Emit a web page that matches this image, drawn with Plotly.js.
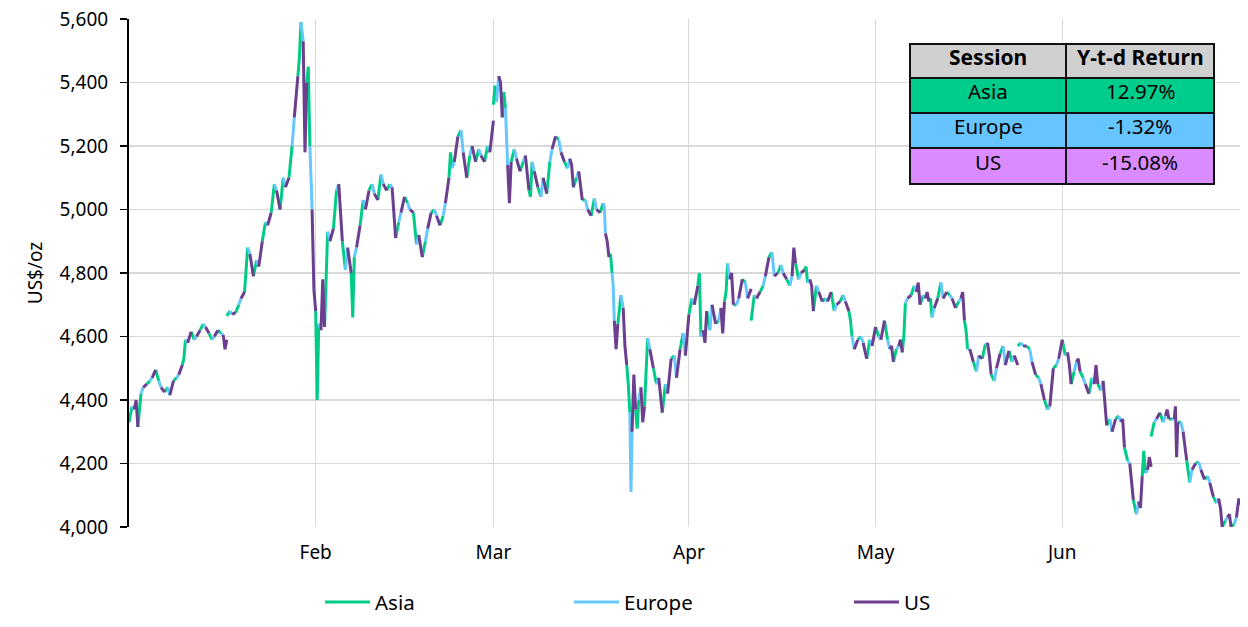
<!DOCTYPE html>
<html>
<head>
<meta charset="utf-8">
<script src="https://cdn.plot.ly/plotly-3.0.1.min.js"></script>
<style>html,body{margin:0;padding:0;background:#fff;}#chart{width:1248px;height:627px;}</style>
</head>
<body>
<div id="chart"></div>
<script>
// Trading-day index 0 = 2 Jan; each entry = price path (US$/oz) within that session
const monthTickDays = [21, 41, 63, 84, 105];
const monthTickLabels = ['Feb', 'Mar', 'Apr', 'May', 'Jun'];
// days where the line is broken before the Asia session (first Asia value = session open)
const gapDays = [0, 11, 41, 70, 100, 115];

const asia = [
  [4330,4380],4420,4460,4460,4440,4470,[4530,4590],4590,4640,4590,
  4610,[4665,4680],4700,4880,4840,4960,5080,5100,5200,[5480,5590],
  [5450,5200],[4400,4640],[4800,4930],5060,4810,[4660,4850],5030,5080,5110,5080,
  4960,5020,4890,4900,5000,4980,[5180,5130],5250,5170,5190,
  5200,[5330,5390,5340],[5370,5320],5190,5150,[5040,5150],5040,5150,5220,5130,
  5100,5030,5035,5020,[4860,4800],4730,[4450,4360],[4310,4400],4595,4450,
  4450,4540,4610,4720,[4800,4600],4620,4650,[4740,4830],4700,4770,
  [4650,4730],4760,4865,4825,4760,4780,[4820,4770],4760,4720,4680,
  4730,[4650,4600],4600,4590,4600,4590,4560,[4600,4705],4760,4730,
  [4720,4660],4770,4730,4710,[4620,4560],4490,4575,4460,4570,4520,
  [4570,4580],4560,4470,4370,4510,4540,4490,4470,4470,4430,
  4340,4350,4210,4040,[4240,4170],[4285,4330],4330,4340,4330,4140,
  4205,4160,4075,4020,4010
];
const europe = [
  4370,4440,4470,4440,4415,4480,4580,4600,4630,4600,
  4605,4670,4720,4860,4820,4950,5060,5070,5290,5530,
  [5120,5000],4620,4900,5080,4880,4880,5000,5050,5080,5070,
  4990,5000,4920,4940,4980,5020,5150,5180,5200,5170,
  5180,5420,[5250,5140],5160,5170,5120,5100,5190,5180,5160,
  5120,5000,5000,[5010,4925],[4760,4650],4690,[4110,4300],4440,4560,4470,
  4420,4470,4540,4700,4620,4700,4690,4780,4720,4720,
  4720,4790,4790,4800,4790,4800,4780,4740,4710,4700,
  4710,4560,4580,4570,4590,4560,4570,4720,4740,4720,
  4690,4720,4720,4720,4560,4540,4580,4500,4510,4540,
  4570,4520,4450,4380,4530,4550,4520,4450,4450,4460,
  4300,4330,4200,4080,4180,4340,4350,4340,4300,4180,
  4180,4140,4090,4030,4030
];
const us = [
  [4400,4315],4450,4495,4425,4460,4510,4615,4620,4610,4620,
  [4560,4590],4675,4740,4790,4900,4990,5000,5100,5420,[5180,5400],
  [4750,4680],[4780,4630],4940,[5000,4900],4800,4950,5060,5030,5060,4910,
  5040,4990,4850,4990,4950,5100,5230,5100,5150,5150,
  5280,[5400,5290],[5020,5150],5120,5060,5070,5050,5230,5150,[5140,5070],
  5030,4980,4990,[4900,4850],[4560,4640],[4570,4510],[4480,4370],[4330,4380],4500,[4420,4360],
  4530,4560,4670,4760,[4580,4680],4640,[4610,4710],[4800,4700],4780,4750,
  4740,4850,4800,4780,[4880,4830],4810,[4760,4680],4710,4740,4710,
  4680,4590,4530,4630,4650,[4570,4520],[4590,4550],4730,[4770,4700],[4740,4710],
  4720,4740,4690,[4740,4650],4520,4530,[4540,4480],4545,4555,4510,
  4570,4480,[4420,4400],4500,4590,[4510,4450],[4530,4490],4420,[4510,4450],4320,
  4340,[4340,4250],[4150,4085],[4060,4160],[4220,4190],4360,[4370,4340],[4380,4220,4330],4210,4200,
  4150,4095,[4060,4000],[4040,4000],[4065,4090,4070]
];

const sessionNames = ['Asia', 'Europe', 'US'];
const sessionColors = ['#00CC88', '#66C7FF', '#6B3F8E'];
const tableHeader = ['Session', 'Y-t-d Return'];
const ytdReturn = ['12.97%', '-1.32%', '-15.08%'];
const tableFills = ['#00CC8C', '#66C5FF', '#DA8BFF'];
const headerFill = '#D0D0D0';

const FONT = 'Noto Sans, Open Sans, sans-serif';
const W = 1248, H = 627, M = {l: 129, r: 8, t: 19, b: 100};
const PW = W - M.l - M.r, PH = H - M.t - M.b;
const px = v => (v - M.l) / PW;          // pixel -> paper x
const py = v => (H - M.b - v) / PH;      // pixel -> paper y

const sessionData = [asia, europe, us];
const spans = [[0, 0.35], [0.35, 0.6], [0.6, 1.0]];

const lines = sessionData.map(() => ({x: [], y: []}));
let last = null;
for (let d = 0; d < asia.length; d++) {
  for (let s = 0; s < 3; s++) {
    let vals = [].concat(sessionData[s][d]);
    const [a, b] = spans[s];
    const t = lines[s];
    if (t.x.length) { t.x.push(null); t.y.push(null); }
    if (s === 0 && gapDays.includes(d)) {
      t.x.push(d + a); t.y.push(vals[0]);
      vals = vals.slice(1);
    } else {
      t.x.push(d + a); t.y.push(last);
    }
    vals.forEach((v, i) => { t.x.push(d + a + (b - a) * (i + 1) / vals.length); t.y.push(v); });
    last = vals[vals.length - 1];
  }
}

const traces = lines.map((l, s) => ({
  type: 'scatter', mode: 'lines', x: l.x, y: l.y, connectgaps: false,
  name: sessionNames[s], showlegend: false,
  line: {color: sessionColors[s], width: 3}, hoverinfo: 'skip'
}));

// ---- legend (manual, bottom) ----
const shapes = [], annotations = [];
const legendLineX = [325, 574, 854], legendLen = 45, legendY = 602;
sessionNames.forEach((n, i) => {
  shapes.push({type: 'line', xref: 'paper', yref: 'paper',
    x0: px(legendLineX[i]), x1: px(legendLineX[i] + legendLen), y0: py(legendY), y1: py(legendY),
    line: {color: sessionColors[i], width: 3}});
  annotations.push({xref: 'paper', yref: 'paper', x: px(legendLineX[i] + legendLen + 3), y: py(legendY),
    xanchor: 'left', yanchor: 'middle', showarrow: false, text: n,
    font: {family: FONT, size: 20.5, color: '#000'}});
});

// ---- table (top right) ----
const colX = [910, 1066, 1214];
const rowY = [44, 78, 113, 148, 184];
const rows = [tableHeader].concat(sessionNames.map((n, i) => [n, ytdReturn[i]]));
const fills = [headerFill].concat(tableFills);
rows.forEach((r, ri) => {
  r.forEach((txt, ci) => {
    shapes.push({type: 'rect', xref: 'paper', yref: 'paper', layer: 'above',
      x0: px(colX[ci]), x1: px(colX[ci + 1]), y0: py(rowY[ri]), y1: py(rowY[ri + 1]),
      fillcolor: fills[ri], line: {color: '#111', width: 2}});
    annotations.push({xref: 'paper', yref: 'paper', showarrow: false,
      x: px((colX[ci] + colX[ci + 1]) / 2), y: py((rowY[ri] + rowY[ri + 1]) / 2 - 4),
      xanchor: 'center', yanchor: 'middle',
      text: ri === 0 ? '<b>' + txt + '</b>' : txt,
      font: {family: FONT, size: ri === 0 ? 21 : 20.5, color: '#000'}});
  });
});

const layout = {
  width: W, height: H,
  margin: M,
  paper_bgcolor: '#fff', plot_bgcolor: '#fff',
  font: {family: FONT, size: 19, color: '#000'},
  showlegend: false,
  shapes: shapes, annotations: annotations,
  xaxis: {
    range: [0, 125], tickmode: 'array', tickvals: monthTickDays, ticktext: monthTickLabels,
    showgrid: true, gridcolor: '#D9D9D9', gridwidth: 1, zeroline: false, showline: false,
    ticks: '', ticklabelstandoff: 12, tickfont: {family: FONT, size: 19, color: '#000'}
  },
  yaxis: {
    range: [4000, 5600], dtick: 200, tickformat: ',d',
    showgrid: true, gridcolor: '#D9D9D9', gridwidth: 1.5, zeroline: false,
    showline: true, linecolor: '#000', linewidth: 2,
    ticks: 'outside', ticklen: 7, tickcolor: '#000', tickwidth: 1.5, ticklabelstandoff: 8,
    tickfont: {family: FONT, size: 19, color: '#000'},
    title: {text: 'US$/oz', standoff: 12, font: {family: FONT, size: 19, color: '#000'}}
  }
};

Plotly.newPlot('chart', traces, layout, {displayModeBar: false, staticPlot: true});
</script>
</body>
</html>
